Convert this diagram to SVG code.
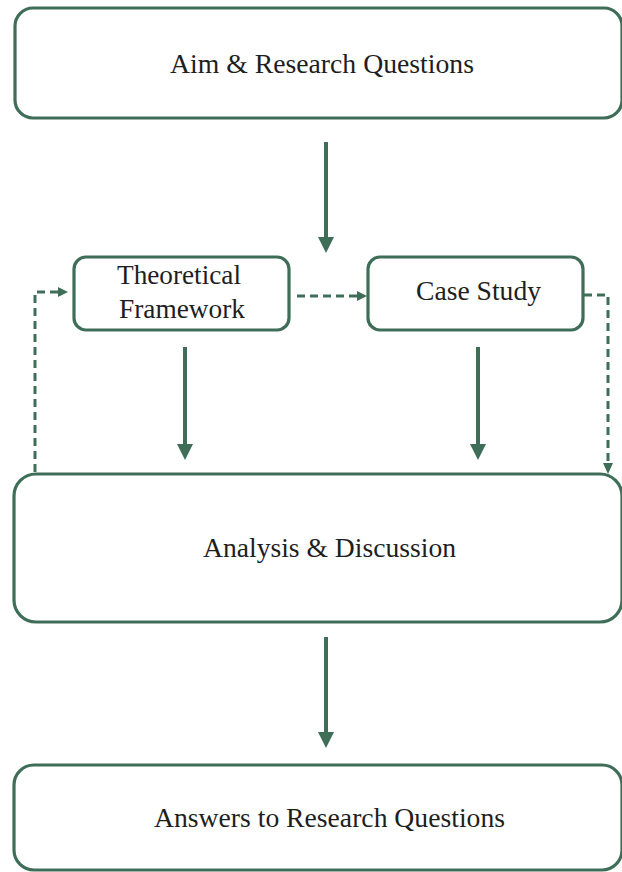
<svg xmlns="http://www.w3.org/2000/svg" width="622" height="872" viewBox="0 0 622 872">
<defs>
<style>
.box{fill:#ffffff;stroke:#3f6e58;stroke-width:3.2}
.lbl{font-family:"Liberation Serif","Times New Roman",serif;font-size:27px;fill:#1e1e1e;text-anchor:middle}
.solid{stroke:#3f6e58;stroke-width:4;fill:none}
.dash{stroke:#3f6e58;stroke-width:3;fill:none;stroke-dasharray:8 5}
.head{fill:#3f6e58}
</style>
</defs>
<rect width="622" height="872" fill="#ffffff"/>
<g id="node-aim">
<rect class="box" x="15" y="8" width="607" height="110" rx="18"/>
<text class="lbl" x="322" y="73" textLength="304" lengthAdjust="spacingAndGlyphs">Aim &amp; Research Questions</text>
</g>
<g id="node-theory">
<rect class="box" x="74" y="257" width="215" height="73" rx="12"/>
<text class="lbl" x="179" y="284" textLength="124" lengthAdjust="spacingAndGlyphs">Theoretical</text>
<text class="lbl" x="182" y="318" textLength="126" lengthAdjust="spacingAndGlyphs">Framework</text>
</g>
<g id="node-case">
<rect class="box" x="368" y="257" width="215" height="73" rx="12"/>
<text class="lbl" x="478.5" y="300" textLength="125" lengthAdjust="spacingAndGlyphs">Case Study</text>
</g>
<g id="node-analysis">
<rect class="box" x="14" y="474" width="608" height="148" rx="22"/>
<text class="lbl" x="329.5" y="557" textLength="253" lengthAdjust="spacingAndGlyphs">Analysis &amp; Discussion</text>
</g>
<g id="node-answers">
<rect class="box" x="14" y="765" width="608" height="105" rx="20"/>
<text class="lbl" x="329.5" y="827" textLength="351" lengthAdjust="spacingAndGlyphs">Answers to Research Questions</text>
</g>
<g id="connectors">
<line class="solid" x1="326" y1="142" x2="326" y2="238"/>
<polygon class="head" points="318,237 334,237 326,253"/>
<line class="solid" x1="185" y1="347" x2="185" y2="445"/>
<polygon class="head" points="177,444 193,444 185,460"/>
<line class="solid" x1="478" y1="347" x2="478" y2="445"/>
<polygon class="head" points="470,444 486,444 478,460"/>
<line class="solid" x1="326" y1="637" x2="326" y2="733"/>
<polygon class="head" points="318,732 334,732 326,748"/>
<path class="dash" d="M297 296 H358"/>
<polygon class="head" points="357,291 367,296 357,301"/>
<path class="dash" d="M35 472 V292 H59"/>
<polygon class="head" points="58,287 68,292 58,297"/>
<path class="dash" d="M584 295 H608 V464"/>
<polygon class="head" points="603,463 613,463 608,474"/>
</g>
</svg>
